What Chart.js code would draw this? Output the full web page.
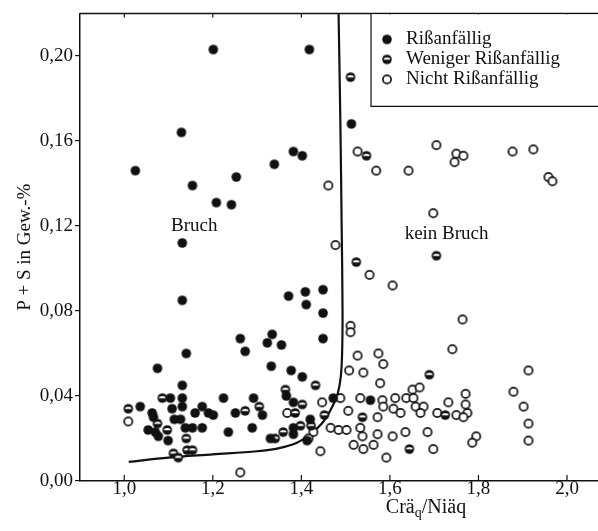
<!DOCTYPE html>
<html>
<head>
<meta charset="utf-8">
<script src="https://cdn.jsdelivr.net/npm/chart.js@4"></script>
<style>
  body { margin: 0; background: #fff; }
</style>
</head>
<body>
<canvas id="myChart" width="598" height="531"></canvas>
<script>
// Daten
const rissX = [1.201, 1.418, 1.129, 1.025, 1.154, 1.208, 1.242, 1.253, 1.339, 1.382, 1.402, 1.131, 1.513,
  1.131, 1.371, 1.409, 1.449, 1.411, 1.449, 1.449, 1.262, 1.273, 1.334, 1.323, 1.355, 1.140, 1.075, 1.332, 1.377, 1.402, 1.131,
  1.366, 1.224, 1.292, 1.104, 1.131, 1.131, 1.108, 1.036, 1.063, 1.066, 1.176, 1.160, 1.190, 1.201, 1.251, 1.312, 1.382,
  1.113, 1.127, 1.138, 1.154, 1.176, 1.054, 1.070, 1.077, 1.099, 1.235, 1.289, 1.382, 1.382, 1.330, 1.420, 1.413, 1.472, 1.556];
const rissY = [0.203, 0.203, 0.164, 0.146, 0.139, 0.131, 0.130, 0.143, 0.149, 0.155, 0.153, 0.112, 0.168,
  0.085, 0.087, 0.089, 0.090, 0.083, 0.079, 0.067, 0.067, 0.061, 0.069, 0.065, 0.064, 0.060, 0.053, 0.054, 0.052, 0.049, 0.045,
  0.040, 0.039, 0.039, 0.039, 0.039, 0.035, 0.034, 0.035, 0.032, 0.030, 0.035, 0.032, 0.032, 0.031, 0.032, 0.031, 0.037,
  0.029, 0.029, 0.025, 0.025, 0.025, 0.024, 0.023, 0.021, 0.019, 0.023, 0.025, 0.025, 0.022, 0.020, 0.029, 0.019, 0.039, 0.038];

const wenigerX = [1.511, 1.547, 1.524, 1.705, 1.689, 1.432, 1.364, 1.402, 1.086, 1.009, 1.075, 1.097, 1.140, 1.111,
  1.122, 1.142, 1.154, 1.273, 1.305, 1.386, 1.452, 1.422, 1.359, 1.398, 1.341, 1.538, 1.644, 1.725];
const wenigerY = [0.190, 0.153, 0.103, 0.106, 0.050, 0.045, 0.043, 0.036, 0.039, 0.034, 0.027, 0.024, 0.020, 0.013,
  0.011, 0.0145, 0.0145, 0.033, 0.035, 0.032, 0.031, 0.026, 0.023, 0.026, 0.020, 0.030, 0.015, 0.031];

const nichtX = [1.527, 1.569, 1.642, 1.461, 1.477, 1.554, 1.606, 1.705, 1.750, 1.766, 1.746, 1.877, 1.924, 1.958, 1.967,
  1.698, 1.764, 1.741, 1.511, 1.511, 1.913, 1.879, 1.902, 1.913, 1.913, 1.795, 1.786,
  1.527, 1.574, 1.585, 1.508, 1.540, 1.578, 1.488, 1.447, 1.533, 1.583, 1.612, 1.637, 1.651, 1.667, 1.653,
  1.585, 1.608, 1.624, 1.658, 1.676, 1.669, 1.707, 1.750, 1.732, 1.771, 1.771, 1.775, 1.766, 1.506, 1.572,
  1.466, 1.484, 1.502, 1.533, 1.538, 1.572, 1.606, 1.635, 1.685, 1.518, 1.540, 1.563, 1.698, 1.592, 1.443,
  1.427, 1.416, 1.368, 1.262, 1.009];
const nichtY = [0.155, 0.146, 0.146, 0.139, 0.111, 0.097, 0.092, 0.158, 0.154, 0.153, 0.150, 0.155, 0.156, 0.143, 0.141,
  0.126, 0.076, 0.062, 0.073, 0.070, 0.052, 0.042, 0.035, 0.027, 0.019, 0.021, 0.018,
  0.059, 0.060, 0.055, 0.052, 0.051, 0.046, 0.039, 0.037, 0.039, 0.038, 0.039, 0.039, 0.043, 0.044, 0.039,
  0.035, 0.034, 0.032, 0.035, 0.035, 0.032, 0.032, 0.031, 0.037, 0.041, 0.036, 0.032, 0.030, 0.033, 0.030,
  0.025, 0.024, 0.024, 0.025, 0.021, 0.022, 0.021, 0.023, 0.023, 0.017, 0.015, 0.017, 0.015, 0.011, 0.014,
  0.023, 0.020, 0.032, 0.004, 0.028];

// Grenzkurve Bruch / kein Bruch
const kurveX = [1.01, 1.10, 1.20, 1.30, 1.35, 1.39, 1.42, 1.45, 1.47, 1.482, 1.489, 1.492, 1.493, 1.491, 1.488, 1.484];
const kurveY = [0.009, 0.011, 0.0125, 0.014, 0.0155, 0.018, 0.022, 0.028, 0.035, 0.041, 0.049, 0.060, 0.080, 0.120, 0.170, 0.220];

const xTicks = [1.0, 1.2, 1.4, 1.6, 1.8, 2.0];
const yTicks = [0, 0.04, 0.08, 0.12, 0.16, 0.20];
const legendLabels = ['Rißanfällig', 'Weniger Rißanfällig', 'Nicht Rißanfällig'];

const schrift = 'Liberation Serif';
const schwarz = '#111';

function punkte(xs, ys) {
  return xs.map((x, i) => ({ x: x, y: ys[i] }));
}

// Markierungen als kleine Canvas
function marker(art) {
  const c = document.createElement('canvas');
  c.width = 12; c.height = 12;
  const g = c.getContext('2d');
  g.beginPath();
  g.arc(6, 6, art === 'offen' ? 4.1 : 4.8, 0, Math.PI * 2);
  if (art === 'offen') {
    g.fillStyle = '#fff';
    g.fill();
    g.lineWidth = 1.7;
    g.strokeStyle = schwarz;
    g.stroke();
  } else {
    g.fillStyle = schwarz;
    g.fill();
  }
  if (art === 'halb') {
    g.beginPath();
    g.ellipse(6, 6.2, 3.3, 2.3, 0, Math.PI, 0);
    g.fillStyle = '#fff';
    g.fill();
  }
  return c;
}
const markerVoll = marker('voll');
const markerHalb = marker('halb');
const markerOffen = marker('offen');
const legendMarker = [markerVoll, markerHalb, markerOffen];

const dekor = {
  id: 'dekor',
  afterDraw(chart) {
    const { ctx, chartArea: a, scales: { x, y } } = chart;
    ctx.save();
    ctx.strokeStyle = schwarz;
    ctx.lineWidth = 1.5;
    // obere Rahmenlinie
    ctx.beginPath();
    ctx.moveTo(a.left, a.top);
    ctx.lineTo(a.right, a.top);
    ctx.stroke();
    // Striche nach innen (unten und oben)
    ctx.lineWidth = 1.2;
    xTicks.forEach(v => {
      const px = x.getPixelForValue(v);
      ctx.beginPath();
      ctx.moveTo(px, a.bottom);
      ctx.lineTo(px, a.bottom - 6);
      ctx.moveTo(px, a.top);
      ctx.lineTo(px, a.top + 4);
      ctx.stroke();
    });

    // Legende
    const lx = a.right - 227, lb = a.top + 93;
    ctx.fillStyle = '#fff';
    ctx.fillRect(lx, a.top + 1, a.right - lx, lb - a.top - 1);
    ctx.lineWidth = 1.2;
    ctx.beginPath();
    ctx.moveTo(lx, a.top);
    ctx.lineTo(lx, lb);
    ctx.lineTo(a.right, lb);
    ctx.stroke();
    ctx.font = '19px "' + schrift + '"';
    ctx.fillStyle = schwarz;
    ctx.textBaseline = 'middle';
    ctx.textAlign = 'left';
    legendLabels.forEach((t, i) => {
      const ly = a.top + 26 + i * 20;
      ctx.drawImage(legendMarker[i], lx + 10, ly - 6);
      ctx.fillText(t, lx + 35, ly);
    });

    // Beschriftungen im Diagramm
    ctx.textAlign = 'center';
    ctx.fillText('Bruch', x.getPixelForValue(1.158), y.getPixelForValue(0.1202));
    ctx.fillText('kein Bruch', x.getPixelForValue(1.728), y.getPixelForValue(0.116));

    // x-Achsentitel mit Index
    const teile = [['Crä', 20, 0], ['q', 14, 4], ['/Niäq', 20, 0]];
    let breite = 0;
    teile.forEach(t => { ctx.font = t[1] + 'px "' + schrift + '"'; breite += ctx.measureText(t[0]).width; });
    let tx = 426 - breite / 2;
    ctx.textAlign = 'left';
    ctx.textBaseline = 'alphabetic';
    teile.forEach(t => {
      ctx.font = t[1] + 'px "' + schrift + '"';
      ctx.fillText(t[0], tx, 513 + t[2]);
      tx += ctx.measureText(t[0]).width;
    });
    ctx.restore();
  }
};

const ctx = document.getElementById('myChart').getContext('2d');

const myChart = new Chart(ctx, {
  type: 'scatter',
  data: {
    datasets: [
      { label: legendLabels[0], data: punkte(rissX, rissY), pointStyle: markerVoll, pointRadius: 5 },
      { label: legendLabels[1], data: punkte(wenigerX, wenigerY), pointStyle: markerHalb, pointRadius: 5 },
      { label: legendLabels[2], data: punkte(nichtX, nichtY), pointStyle: markerOffen, pointRadius: 5 },
      {
        label: 'Grenze', data: punkte(kurveX, kurveY), showLine: true, pointRadius: 0,
        borderColor: schwarz, borderWidth: 2.2, tension: 0.35, fill: false
      }
    ]
  },
  options: {
    responsive: false,
    animation: false,
    events: [],
    layout: { autoPadding: false, padding: { top: 10, right: 0, left: 0, bottom: 0 } },
    plugins: {
      legend: { display: false },
      tooltip: { enabled: false }
    },
    scales: {
      x: {
        type: 'linear',
        min: 0.9,
        max: 2.07,
        afterBuildTicks: s => { s.ticks = xTicks.map(v => ({ value: v })); },
        afterFit: s => { s.height = 50; s.paddingLeft = 0; s.paddingRight = 0; },
        grid: { drawOnChartArea: false, drawTicks: false },
        border: { color: schwarz, width: 1.5 },
        ticks: {
          padding: -3,
          color: schwarz,
          font: { family: schrift, size: 19 },
          callback: v => v.toFixed(1).replace('.', ',')
        }
      },
      y: {
        min: 0,
        max: 0.22,
        afterBuildTicks: s => { s.ticks = yTicks.map(v => ({ value: v })); },
        afterFit: s => { s.width = 80; },
        grid: { drawOnChartArea: false, drawTicks: true, tickLength: 5, color: schwarz, lineWidth: 1.2 },
        border: { color: schwarz, width: 1.5 },
        title: {
          display: true,
          text: 'P + S in Gew.-%',
          color: schwarz,
          font: { family: schrift, size: 19 },
          padding: { top: 14 }
        },
        ticks: {
          padding: 2,
          color: schwarz,
          font: { family: schrift, size: 19 },
          callback: v => v.toFixed(2).replace('.', ',')
        }
      }
    }
  },
  plugins: [dekor]
});
</script>
</body>
</html>
